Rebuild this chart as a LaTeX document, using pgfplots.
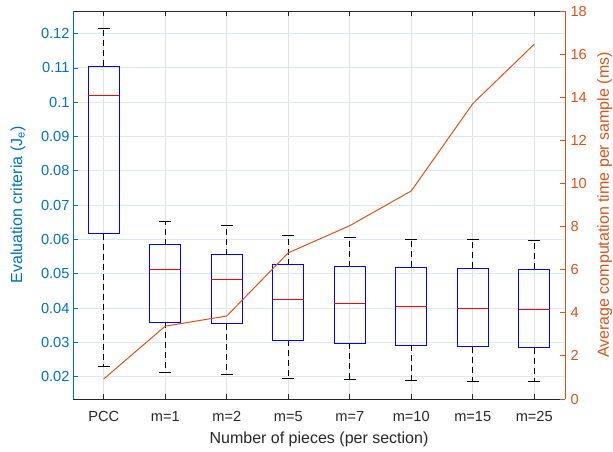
\documentclass[border=0pt]{standalone}
\usepackage{pgfplots}
\pgfplotsset{compat=1.18}
\usepackage{fontspec}
\setmainfont{Liberation Sans}
\definecolor{mlblue}{RGB}{0,114,189}
\definecolor{mlorange}{RGB}{217,83,25}
\definecolor{axgray}{RGB}{38,38,38}
\definecolor{hgrid}{RGB}{220,232,244}
\definecolor{vgrid}{RGB}{226,226,226}
\newcommand{\tickfont}{\fontsize{14.6bp}{17bp}\selectfont}
\newcommand{\labfont}{\fontsize{16bp}{19bp}\selectfont}
\begin{document}
\begin{tikzpicture}
\path[use as bounding box] (-73bp,-53bp) rectangle (540bp,399bp);
\begin{axis}[
  scale only axis, width=492bp, height=388bp,
  xmin=0.5, xmax=8.5, ymin=0.0135, ymax=0.1266,
  xtick={1,2,3,4,5,6,7,8},
  xticklabels={PCC,m=1,m=2,m=5,m=7,m=10,m=15,m=25},
  ytick={0.02,0.03,0.04,0.05,0.06,0.07,0.08,0.09,0.1,0.11,0.12},
  yticklabels={0.02,0.03,0.04,0.05,0.06,0.07,0.08,0.09,0.1,0.11,0.12},
  axis x line*=box, axis y line*=left,
  x axis line style={-, draw=axgray, line width=0.8bp},
  y axis line style={-, draw=mlblue, line width=0.8bp},
  xmajorgrids, ymajorgrids,
  x grid style={vgrid, line width=1bp},
  y grid style={hgrid, line width=1bp},
  major tick length=5bp,
  tick align=inside,
  x tick style={axgray, line width=0.8bp},
  y tick style={mlblue, line width=0.8bp},
  xticklabel style={font=\tickfont, text=axgray, anchor=base, yshift=-22bp},
  yticklabel style={font=\tickfont, text=mlblue},
  xlabel={Number of pieces (per section)},
  ylabel={Evaluation criteria (J\textsubscript{e})},
  every axis x label/.style={at={(axis description cs:0.5,-0.1134)}, anchor=base, font=\labfont, text=axgray},
  every axis y label/.style={at={(axis description cs:-0.112,0.5)}, rotate=90, anchor=center, font=\labfont, text=mlblue},
  unbounded coords=jump,
]
% whiskers (quartile to whisker end), dashed
\addplot[black, line width=0.9bp, dash pattern=on 6bp off 4bp] coordinates {
 (1,0.1105) (1,0.1215) (1,nan) (1,0.0617) (1,0.0230) (1,nan)
 (2,0.0585) (2,0.0653) (2,nan) (2,0.0359) (2,0.0212) (2,nan)
 (3,0.0555) (3,0.0641) (3,nan) (3,0.0355) (3,0.0207) (3,nan)
 (4,0.0527) (4,0.0612) (4,nan) (4,0.0306) (4,0.0196) (4,nan)
 (5,0.0521) (5,0.0606) (5,nan) (5,0.0298) (5,0.0191) (5,nan)
 (6,0.0519) (6,0.0601) (6,nan) (6,0.0292) (6,0.0188) (6,nan)
 (7,0.0516) (7,0.0599) (7,nan) (7,0.0287) (7,0.0187) (7,nan)
 (8,0.0513) (8,0.0596) (8,nan) (8,0.0284) (8,0.0186)
};
% boxes (lower quartile to upper quartile)
\addplot[blue, line width=1bp, line cap=rect] coordinates {
 (0.75,0.0617) (1.25,0.0617) (1.25,0.1105) (0.75,0.1105) (0.75,0.0617) (1,nan)
 (1.75,0.0359) (2.25,0.0359) (2.25,0.0585) (1.75,0.0585) (1.75,0.0359) (2,nan)
 (2.75,0.0355) (3.25,0.0355) (3.25,0.0555) (2.75,0.0555) (2.75,0.0355) (3,nan)
 (3.75,0.0306) (4.25,0.0306) (4.25,0.0527) (3.75,0.0527) (3.75,0.0306) (4,nan)
 (4.75,0.0298) (5.25,0.0298) (5.25,0.0521) (4.75,0.0521) (4.75,0.0298) (5,nan)
 (5.75,0.0292) (6.25,0.0292) (6.25,0.0519) (5.75,0.0519) (5.75,0.0292) (6,nan)
 (6.75,0.0287) (7.25,0.0287) (7.25,0.0516) (6.75,0.0516) (6.75,0.0287) (7,nan)
 (7.75,0.0284) (8.25,0.0284) (8.25,0.0513) (7.75,0.0513) (7.75,0.0284)
};
% medians
\addplot[red, line width=1bp] coordinates {
 (0.75,0.1019) (1.25,0.1019) (1,nan)
 (1.75,0.0512) (2.25,0.0512) (2,nan)
 (2.75,0.0482) (3.25,0.0482) (3,nan)
 (3.75,0.0425) (4.25,0.0425) (4,nan)
 (4.75,0.0412) (5.25,0.0412) (5,nan)
 (5.75,0.0406) (6.25,0.0406) (6,nan)
 (6.75,0.0400) (7.25,0.0400) (7,nan)
 (7.75,0.0396) (8.25,0.0396)
};
% whisker caps
\addplot[only marks, mark=-, mark size=6bp, black, mark options={solid, line width=1bp}] coordinates {
 (1,0.1215) (2,0.0653) (3,0.0641) (4,0.0612) (5,0.0606) (6,0.0601) (7,0.0599) (8,0.0596)
 (1,0.0230) (2,0.0212) (3,0.0207) (4,0.0196) (5,0.0191) (6,0.0188) (7,0.0187) (8,0.0186)
};
\end{axis}
\begin{axis}[
  scale only axis, width=492bp, height=388bp,
  xmin=0.5, xmax=8.5, ymin=0, ymax=18,
  axis x line=none, axis y line*=right,
  y axis line style={-, draw=mlorange, line width=0.8bp},
  ytick={0,2,4,6,8,10,12,14,16,18},
  major tick length=5bp,
  tick align=inside,
  y tick style={mlorange, line width=0.8bp},
  yticklabel style={font=\tickfont, text=mlorange, xshift=2bp},
  /pgf/number format/assume math mode=true,
  ylabel={Average computation time per sample (ms)},
  every axis y label/.style={at={(axis description cs:1.081,0.5)}, rotate=90, anchor=center, font=\labfont, text=mlorange},
]
\addplot[mlorange, line width=1bp] coordinates {
 (1,0.93) (2,3.38) (3,3.85) (4,6.78) (5,8.04) (6,9.65) (7,13.7) (8,16.46)
};
\end{axis}
\end{tikzpicture}
\end{document}
